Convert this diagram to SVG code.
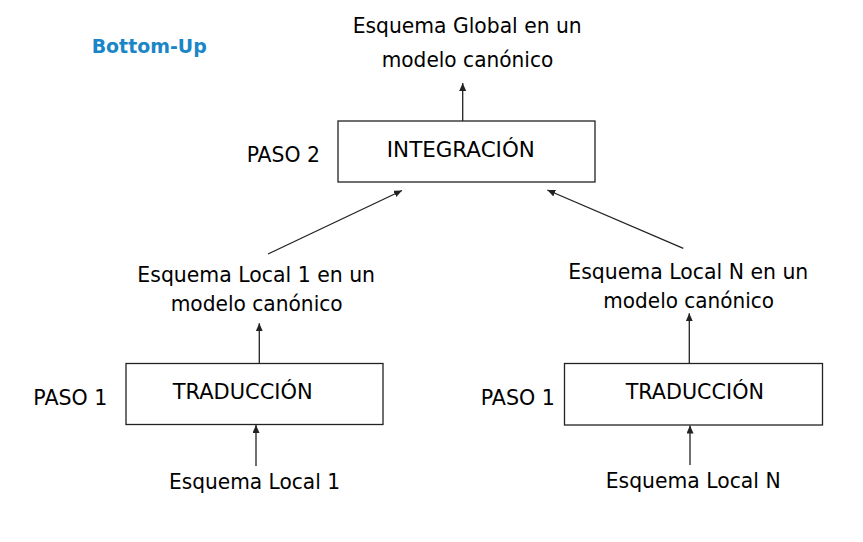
<svg xmlns="http://www.w3.org/2000/svg" width="863" height="542" viewBox="0 0 863 542">
<defs>
<style>
text{font-family:"DejaVu Sans","Liberation Sans",sans-serif;font-size:21px;fill:#000;text-anchor:middle}
.box{fill:#fff;stroke:#222;stroke-width:1.3}
.bl{font-size:22px}
.title{font-weight:bold;font-size:20px;fill:#1a86c8}
.con line{stroke:#222;stroke-width:1.3;marker-end:url(#ah)}
</style>
<marker id="ah" markerUnits="userSpaceOnUse" markerWidth="9" markerHeight="8" refX="8" refY="3.5" orient="auto">
<path d="M0,0 L8,3.5 L0,7 Z" fill="#222"/>
</marker>
</defs>
<rect width="863" height="542" fill="#fff"/>
<text class="title" x="149.2" y="53.3" textLength="115" lengthAdjust="spacingAndGlyphs">Bottom-Up</text>
<g id="global">
<text x="467.2" y="33.3" textLength="229" lengthAdjust="spacingAndGlyphs">Esquema Global en un</text>
<text x="467.5" y="66.7" textLength="171.6" lengthAdjust="spacingAndGlyphs">modelo canónico</text>
</g>
<g id="integracion">
<rect class="box" x="338" y="121" width="257" height="61"/>
<text class="bl" x="460.8" y="156.7" textLength="148" lengthAdjust="spacingAndGlyphs">INTEGRACIÓN</text>
</g>
<text x="283.3" y="162" textLength="73.3" lengthAdjust="spacingAndGlyphs">PASO 2</text>
<g id="local1canon">
<text x="256.2" y="281.7" textLength="237.7" lengthAdjust="spacingAndGlyphs">Esquema Local 1 en un</text>
<text x="256.7" y="310.7" textLength="172" lengthAdjust="spacingAndGlyphs">modelo canónico</text>
</g>
<g id="localNcanon">
<text x="688.3" y="279.3" textLength="240" lengthAdjust="spacingAndGlyphs">Esquema Local N en un</text>
<text x="688.7" y="307.7" textLength="170.7" lengthAdjust="spacingAndGlyphs">modelo canónico</text>
</g>
<g id="traduccion1">
<rect class="box" x="126" y="363.5" width="257" height="61"/>
<text class="bl" x="242.7" y="399.3" textLength="140" lengthAdjust="spacingAndGlyphs">TRADUCCIÓN</text>
</g>
<text x="70.3" y="405" textLength="74" lengthAdjust="spacingAndGlyphs">PASO 1</text>
<g id="traduccionN">
<rect class="box" x="564.5" y="363.5" width="258" height="61.5"/>
<text class="bl" x="694.8" y="399" textLength="138.3" lengthAdjust="spacingAndGlyphs">TRADUCCIÓN</text>
</g>
<text x="517.8" y="405" textLength="74.3" lengthAdjust="spacingAndGlyphs">PASO 1</text>
<g id="local1">
<text x="254.5" y="489.3" textLength="171" lengthAdjust="spacingAndGlyphs">Esquema Local 1</text>
</g>
<g id="localN">
<text x="693.2" y="488.3" textLength="175" lengthAdjust="spacingAndGlyphs">Esquema Local N</text>
</g>
<g id="connectors" class="con">
<line x1="462.7" y1="121" x2="462.7" y2="83"/>
<line x1="268" y1="254" x2="402" y2="190.5"/>
<line x1="683.3" y1="248.3" x2="547.3" y2="190"/>
<line x1="259.3" y1="363.5" x2="259.3" y2="323.3"/>
<line x1="689.3" y1="363.5" x2="689.3" y2="313.3"/>
<line x1="256" y1="466" x2="256" y2="425"/>
<line x1="690" y1="465" x2="690" y2="425.5"/>
</g>
</svg>
